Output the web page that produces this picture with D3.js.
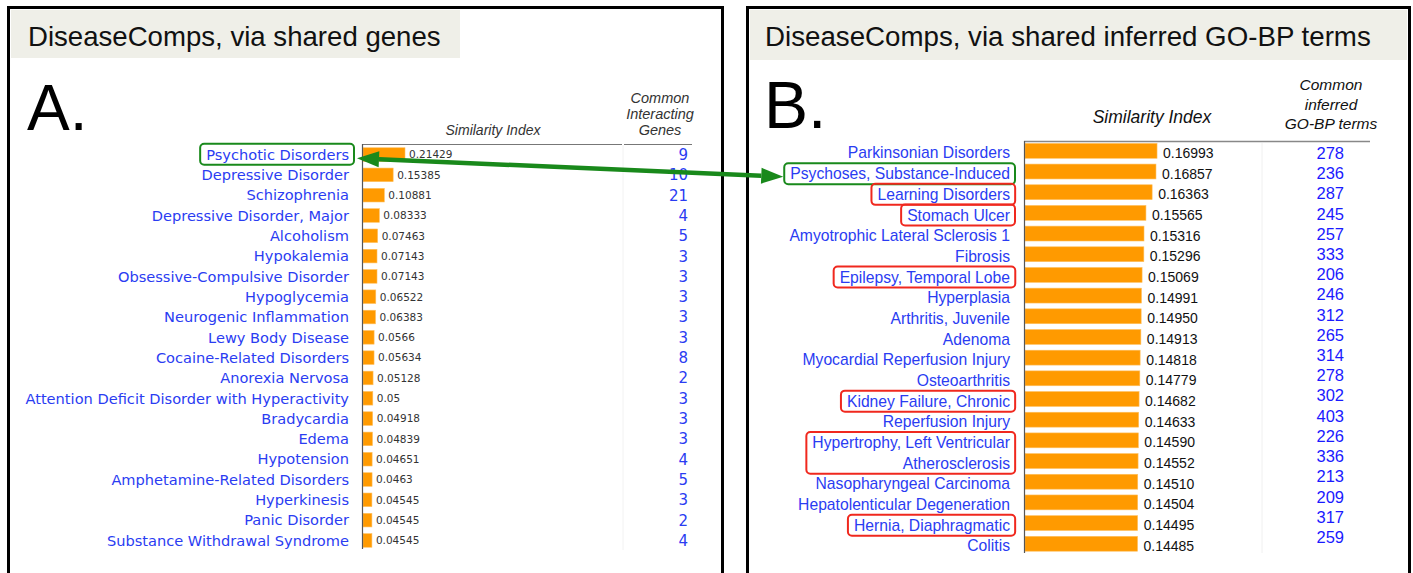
<!DOCTYPE html>
<html><head><meta charset="utf-8">
<script src="https://cdn.jsdelivr.net/npm/d3@7"></script>
<style>body{margin:0;background:#fff;}svg{display:block;}</style>
</head><body>
<svg id="c" width="1413" height="573"></svg>
<script>
// ---------- DATA ----------
const catsA = ["Psychotic Disorders","Depressive Disorder","Schizophrenia","Depressive Disorder, Major","Alcoholism","Hypokalemia","Obsessive-Compulsive Disorder","Hypoglycemia","Neurogenic Inflammation","Lewy Body Disease","Cocaine-Related Disorders","Anorexia Nervosa","Attention Deficit Disorder with Hyperactivity","Bradycardia","Edema","Hypotension","Amphetamine-Related Disorders","Hyperkinesis","Panic Disorder","Substance Withdrawal Syndrome"];
const simA = [0.21429,0.15385,0.10881,0.08333,0.07463,0.07143,0.07143,0.06522,0.06383,0.0566,0.05634,0.05128,0.05,0.04918,0.04839,0.04651,0.0463,0.04545,0.04545,0.04545];
const countA = [9,10,21,4,5,3,3,3,3,3,8,2,3,3,3,4,5,3,2,4];

const catsB = ["Parkinsonian Disorders","Psychoses, Substance-Induced","Learning Disorders","Stomach Ulcer","Amyotrophic Lateral Sclerosis 1","Fibrosis","Epilepsy, Temporal Lobe","Hyperplasia","Arthritis, Juvenile","Adenoma","Myocardial Reperfusion Injury","Osteoarthritis","Kidney Failure, Chronic","Reperfusion Injury","Hypertrophy, Left Ventricular","Atherosclerosis","Nasopharyngeal Carcinoma","Hepatolenticular Degeneration","Hernia, Diaphragmatic","Colitis"];
const simB = [0.16993,0.16857,0.16363,0.15565,0.15316,0.15296,0.15069,0.14991,0.14950,0.14913,0.14818,0.14779,0.14682,0.14633,0.14590,0.14552,0.14510,0.14504,0.14495,0.14485];
const countB = [278,236,287,245,257,333,206,246,312,265,314,278,302,403,226,336,213,209,317,259];

const titleA = "DiseaseComps, via shared genes";
const titleB = "DiseaseComps, via shared inferred GO-BP terms";
const headerA = ["Common","Interacting","Genes"];
const headerB = ["Common","inferred","GO-BP terms"];
const greenA = ["Psychotic Disorders"];
const greenB = ["Psychoses, Substance-Induced"];
const redGroupsB = [["Learning Disorders"],["Stomach Ulcer"],["Epilepsy, Temporal Lobe"],["Kidney Failure, Chronic"],["Hypertrophy, Left Ventricular","Atherosclerosis"],["Hernia, Diaphragmatic"]];

// ---------- DRAW ----------
const svg = d3.select("#c");
const blue = "#2a3cf2", orange = "#ff9a00", green = "#19891b", red = "#f0281e";
const HEL = "'Liberation Sans', Arial, Helvetica, sans-serif";
const VER = "'DejaVu Sans', Verdana, sans-serif";

// panel frames
svg.append("rect").attr("x",8.5).attr("y",7.5).attr("width",714).attr("height",600).attr("fill","none").attr("stroke","#000").attr("stroke-width",3);
svg.append("rect").attr("x",747.5).attr("y",7.5).attr("width",662).attr("height",600).attr("fill","none").attr("stroke","#000").attr("stroke-width",3);
// header boxes
svg.append("rect").attr("x",11).attr("y",10).attr("width",449).attr("height",48).attr("fill","#efefe8");
svg.append("rect").attr("x",750).attr("y",10).attr("width",657).attr("height",50).attr("fill","#efefe8");
svg.append("text").attr("x",28).attr("y",46).attr("font-family",HEL).attr("font-size",27.6).attr("fill","#111").text(titleA);
svg.append("text").attr("x",765).attr("y",46).attr("font-family",HEL).attr("font-size",27.7).attr("fill","#111").text(titleB);
svg.append("text").attr("x",27).attr("y",130).attr("font-family",HEL).attr("font-size",64).attr("fill","#000").text("A.");
svg.append("text").attr("x",764).attr("y",128).attr("font-family",HEL).attr("font-size",66).attr("fill","#000").text("B.");

// ---- Panel A ----
const xA = d3.scaleLinear().domain([0,1]).range([363, 363+196]);
const yA = d3.scaleBand().domain(catsA).range([144.5, 144.5+20*20.3]).paddingInner(0.33).paddingOuter(0.16);
const cyA = d => yA(d) + yA.bandwidth()/2;

svg.append("text").attr("x",493).attr("y",135).attr("text-anchor","middle").attr("font-family",HEL).attr("font-style","italic").attr("font-size",14).attr("fill","#333").text("Similarity Index");
svg.append("g").selectAll("text").data(headerA).join("text")
  .attr("x",660).attr("y",(d,i)=>103+i*16).attr("text-anchor","middle").attr("font-family",HEL).attr("font-style","italic").attr("font-size",14.5).attr("fill","#333").text(d=>d);
svg.append("line").attr("x1",362).attr("x2",622).attr("y1",144.5).attr("y2",144.5).attr("stroke","#777").attr("stroke-width",1.2);
svg.append("line").attr("x1",624).attr("x2",692).attr("y1",144.5).attr("y2",144.5).attr("stroke","#777").attr("stroke-width",1.2);
svg.append("line").attr("x1",623).attr("x2",623).attr("y1",145).attr("y2",550).attr("stroke","#f2f2f2");

const gA = svg.append("g");
gA.selectAll("rect.bar").data(catsA).join("rect").attr("class","bar")
  .attr("x",xA(0)).attr("y",d=>yA(d)).attr("height",yA.bandwidth())
  .attr("width",(d,i)=>xA(simA[i])-xA(0)).attr("fill",orange).attr("stroke","#ffc060").attr("stroke-width",0.6);
svg.append("line").attr("x1",362.5).attr("x2",362.5).attr("y1",144).attr("y2",549).attr("stroke","#555").attr("stroke-width",1.2);
const labA = gA.selectAll("text.lab").data(catsA).join("text").attr("class","lab")
  .attr("x",349).attr("y",d=>cyA(d)).attr("dy","0.36em").attr("text-anchor","end")
  .attr("font-family",VER).attr("font-size",14.6).attr("fill",blue).text(d=>d);
gA.selectAll("text.val").data(catsA).join("text").attr("class","val")
  .attr("x",(d,i)=>xA(simA[i])+4).attr("y",d=>cyA(d)).attr("dy","0.36em")
  .attr("font-family",VER).attr("font-size",10.5).attr("fill","#333").text((d,i)=>String(simA[i]));
gA.selectAll("text.cnt").data(catsA).join("text").attr("class","cnt")
  .attr("x",688).attr("y",d=>cyA(d)).attr("dy","0.36em").attr("text-anchor","end")
  .attr("font-family",VER).attr("font-size",15).attr("fill",blue).text((d,i)=>countA[i]);

// ---- Panel B ----
const xB = d3.scaleLinear().domain([0,1]).range([1025, 1025+777]);
const yB = d3.scaleBand().domain(catsB).range([140.5, 140.5+20*20.68]).paddingInner(0.28).paddingOuter(0.14);
const cyB = d => yB(d) + yB.bandwidth()/2;
const yBn = d3.scalePoint().domain(catsB).range([153, 537]);

svg.append("text").attr("x",1152).attr("y",123).attr("text-anchor","middle").attr("font-family",HEL).attr("font-style","italic").attr("font-size",17.5).attr("fill","#111").text("Similarity Index");
svg.append("g").selectAll("text").data(headerB).join("text")
  .attr("x",1331).attr("y",(d,i)=>90+i*19.5).attr("text-anchor","middle").attr("font-family",HEL).attr("font-style","italic").attr("font-size",15.5).attr("fill","#111").text(d=>d);
svg.append("line").attr("x1",1024).attr("x2",1370).attr("y1",141.5).attr("y2",141.5).attr("stroke","#888").attr("stroke-width",1.5);
svg.append("line").attr("x1",1262).attr("x2",1262).attr("y1",143).attr("y2",553).attr("stroke","#f0f0f0");

const gB = svg.append("g");
gB.selectAll("rect.bar").data(catsB).join("rect").attr("class","bar")
  .attr("x",xB(0)).attr("y",d=>yB(d)).attr("height",yB.bandwidth())
  .attr("width",(d,i)=>xB(simB[i])-xB(0)).attr("fill",orange).attr("stroke","#ffc060").attr("stroke-width",0.6);
svg.append("line").attr("x1",1024.5).attr("x2",1024.5).attr("y1",141).attr("y2",553).attr("stroke","#555").attr("stroke-width",1.2);
const labB = gB.selectAll("text.lab").data(catsB).join("text").attr("class","lab")
  .attr("x",1010).attr("y",d=>cyB(d)+2).attr("dy","0.36em").attr("text-anchor","end")
  .attr("font-family",HEL).attr("font-size",15.7).attr("fill",blue).text(d=>d);
gB.selectAll("text.val").data(catsB).join("text").attr("class","val")
  .attr("x",(d,i)=>xB(simB[i])+6).attr("y",d=>cyB(d)+2).attr("dy","0.36em")
  .attr("font-family",HEL).attr("font-size",14).attr("fill","#111").text((d,i)=>d3.format(".5f")(simB[i]));
gB.selectAll("text.cnt").data(catsB).join("text").attr("class","cnt")
  .attr("x",1344).attr("y",d=>yBn(d)).attr("dy","0.36em").attr("text-anchor","end")
  .attr("font-family",HEL).attr("font-size",16.5).attr("fill","#1a1aff").text((d,i)=>countB[i]);

// ---- highlight boxes ----
function boxFor(sel, names, color){
  const bbs = sel.filter(d=>names.includes(d)).nodes().map(n=>n.getBBox());
  const x0 = d3.min(bbs,b=>b.x)-6, x1 = d3.max(bbs,b=>b.x+b.width)+5;
  const y0 = d3.min(bbs,b=>b.y)-2, y1 = d3.max(bbs,b=>b.y+b.height)+2;
  svg.append("rect").attr("x",x0).attr("y",y0).attr("width",x1-x0).attr("height",y1-y0)
    .attr("rx",4).attr("fill","none").attr("stroke",color).attr("stroke-width",2);
  return {x0,x1,y0,y1};
}
const bA = boxFor(labA, greenA, green);
const bB = boxFor(labB, greenB, green);
redGroupsB.forEach(g=>boxFor(labB, g, red));

// ---- double arrow ----
const p1 = [bA.x1+3, (bA.y0+bA.y1)/2+4], p2 = [bB.x0-1, (bB.y0+bB.y1)/2+3];
const ang = Math.atan2(p2[1]-p1[1], p2[0]-p1[0]);
const hl = 22, hw = 8;
function head(tip, a){
  const bx = tip[0]-hl*Math.cos(a), by = tip[1]-hl*Math.sin(a);
  const nx = -Math.sin(a)*hw, ny = Math.cos(a)*hw;
  return [[tip[0],tip[1]],[bx+nx,by+ny],[bx-nx,by-ny]];
}
svg.append("line").attr("x1",p1[0]+hl*Math.cos(ang)).attr("y1",p1[1]+hl*Math.sin(ang))
  .attr("x2",p2[0]-hl*Math.cos(ang)).attr("y2",p2[1]-hl*Math.sin(ang))
  .attr("stroke",green).attr("stroke-width",4.5);
svg.append("polygon").attr("points",head(p2,ang).join(" ")).attr("fill",green);
svg.append("polygon").attr("points",head(p1,ang+Math.PI).join(" ")).attr("fill",green);
</script>
</body></html>
